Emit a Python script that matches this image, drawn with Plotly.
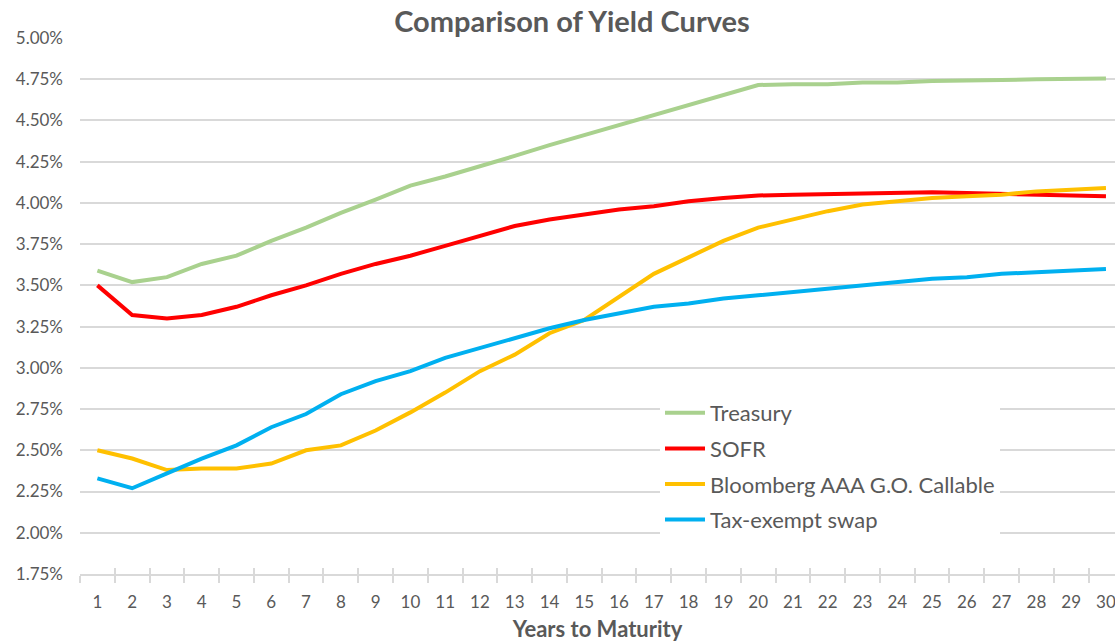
import plotly.graph_objects as go

# Maturity buckets (years)
years = list(range(1, 31))

# Yields by maturity, in percent
treasury = [3.59, 3.52, 3.55, 3.63, 3.68, 3.77, 3.85, 3.94, 4.02, 4.105,
            4.16, 4.22, 4.285, 4.35, 4.41, 4.47, 4.53, 4.59, 4.655, 4.715,
            4.72, 4.72, 4.73, 4.73, 4.74, 4.74, 4.745, 4.75, 4.75, 4.755]
sofr = [3.50, 3.32, 3.30, 3.32, 3.37, 3.44, 3.50, 3.57, 3.63, 3.68,
        3.74, 3.80, 3.86, 3.90, 3.93, 3.96, 3.98, 4.01, 4.03, 4.045,
        4.05, 4.055, 4.06, 4.065, 4.065, 4.06, 4.055, 4.05, 4.05, 4.04]
bloomberg_go = [2.50, 2.45, 2.38, 2.39, 2.39, 2.42, 2.50, 2.53, 2.62, 2.73,
                2.85, 2.98, 3.08, 3.21, 3.29, 3.43, 3.57, 3.67, 3.77, 3.85,
                3.90, 3.95, 3.99, 4.01, 4.03, 4.04, 4.05, 4.07, 4.08, 4.09]
tax_exempt_swap = [2.33, 2.27, 2.36, 2.45, 2.53, 2.64, 2.72, 2.84, 2.92, 2.98,
                   3.06, 3.12, 3.18, 3.24, 3.29, 3.33, 3.37, 3.39, 3.42, 3.44,
                   3.46, 3.48, 3.50, 3.52, 3.54, 3.55, 3.57, 3.58, 3.59, 3.60]

series_names = ["Treasury", "SOFR", "Bloomberg AAA G.O. Callable", "Tax-exempt swap"]
series_values = [treasury, sofr, bloomberg_go, tax_exempt_swap]
series_colors = ["#A9D18E", "#FF0000", "#FFC000", "#00B0F0"]

y_ticks = [1.75 + 0.25 * i for i in range(14)]
y_tick_labels = [f"{v:.2f}%" for v in y_ticks]

TEXT = "#595959"
GRID = "#D9D9D9"
FONT = "Lato, Calibri, sans-serif"

fig = go.Figure()
for name, vals, color in zip(series_names, series_values, series_colors):
    fig.add_trace(go.Scatter(
        x=years, y=vals, name=name, mode="lines",
        line=dict(color=color, width=4),
        legendgroup=name,
    ))

# Empty trace so the overlay axis (upper half of the cross tick marks) is drawn
fig.add_trace(go.Scatter(x=[], y=[], xaxis="x2", yaxis="y",
                         showlegend=False, hoverinfo="skip"))

boundaries = [y - 0.5 for y in years] + [30.5]
x_range = [0.5, 30.26]

fig.update_layout(
    width=1115, height=642,
    margin=dict(l=80, r=0, t=38, b=68),
    paper_bgcolor="white", plot_bgcolor="white",
    font=dict(family=FONT, color=TEXT),
    title=dict(
        text="<b>Comparison of Yield Curves</b>",
        font=dict(family=FONT, size=29, color=TEXT),
        x=572 / 1115, xref="container", xanchor="center",
        y=1 - 22 / 642, yref="container", yanchor="middle",
    ),
    xaxis=dict(
        range=x_range,
        tickmode="array", tickvals=years, ticktext=[str(y) for y in years],
        ticks="", showgrid=False, zeroline=False,
        showline=True, linecolor=GRID, linewidth=1.5,
        tickfont=dict(size=17, color=TEXT),
        ticklabelstandoff=12, ticklabeloverflow="allow",
        minor=dict(tickmode="array", tickvals=boundaries, ticks="outside",
                   ticklen=7, tickcolor=GRID, tickwidth=1.5, showgrid=False),
        title=dict(text="<b>Years to Maturity</b>",
                   font=dict(size=22, color=TEXT), standoff=11),
    ),
    xaxis2=dict(
        range=x_range, overlaying="x", anchor="y", side="bottom",
        tickmode="array", tickvals=boundaries, ticks="inside",
        ticklen=6, tickcolor=GRID, tickwidth=1.5,
        showticklabels=False, showgrid=False, zeroline=False, showline=False,
    ),
    yaxis=dict(
        range=[1.75, 5.0],
        tickmode="array", tickvals=y_ticks, ticktext=y_tick_labels,
        showgrid=True, gridcolor=GRID, gridwidth=1.5,
        zeroline=False, showline=False, ticks="",
        tickfont=dict(size=17, color=TEXT),
        ticklabelstandoff=16,
    ),
    legend=dict(
        x=(660 - 80) / 1035, xanchor="left",
        y=(574 - 392) / 536, yanchor="top",
        bgcolor="white", borderwidth=0,
        font=dict(size=22, color=TEXT),
        tracegroupgap=4, itemwidth=40,
    ),
    showlegend=True,
)

fig.write_html("out.html")
